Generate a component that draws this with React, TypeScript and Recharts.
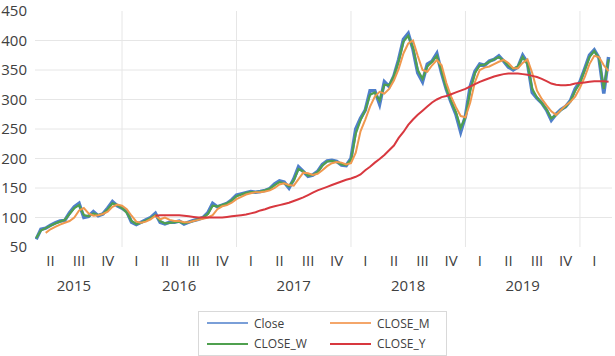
import React from "react";
import { LineChart, Line, XAxis, YAxis, CartesianGrid, Legend } from "recharts";

// semi-monthly sampling points, Apr 2015 .. Apr 2020
const dates: string[] = [];
for (let y = 2015; y <= 2020; y++) {
  for (let m = 1; m <= 12; m++) {
    if ((y === 2015 && m < 4) || (y === 2020 && m > 4)) continue;
    const mm = String(m).padStart(2, "0");
    dates.push(`${y}-${mm}-01`);
    if (!(y === 2020 && m === 4)) dates.push(`${y}-${mm}-16`);
  }
}

const close = [
  63, 80, 82, 87, 91, 94, 95, 108, 118, 124, 100, 102, 110, 103, 106, 116, 127, 120,
  116, 110, 92, 88, 92, 96, 100, 107, 92, 89, 92, 92, 94, 89, 92, 95, 97, 100, 108, 124, 118, 121, 124, 130,
  138, 140, 142, 144, 143, 144, 146, 149, 157, 162, 160, 150, 165, 186, 178, 170, 172, 178, 190, 196, 197, 195, 189, 188,
  200, 250, 268, 282, 315, 315, 292, 330, 322, 340, 368, 402, 412, 385, 345, 330, 360, 365, 378, 345, 317, 295, 275, 245,
  272, 322, 348, 360, 358, 365, 368, 374, 365, 355, 350, 355, 375, 362, 312, 302, 294, 282, 265, 275, 283, 288, 298, 318,
  330, 352, 375, 384, 370, 310, 372,
];

const closeW = [
  65, 78, 82, 86, 90, 93, 96, 106, 116, 121, 104, 102, 107, 104, 106, 114, 124, 121,
  116, 108, 94, 89, 91, 95, 99, 104, 94, 90, 91, 92, 93, 90, 92, 94, 97, 100, 106, 120, 119, 121, 124, 129,
  136, 139, 142, 143, 143, 144, 146, 149, 155, 160, 158, 153, 163, 182, 178, 171, 172, 177, 188, 195, 196, 194, 190, 189,
  198, 242, 265, 282, 308, 312, 298, 325, 324, 340, 365, 398, 408, 388, 350, 335, 356, 364, 374, 348, 318, 297, 278, 252,
  270, 315, 345, 358, 359, 364, 368, 372, 366, 357, 352, 356, 372, 360, 318, 303, 294, 283, 268, 274, 282, 288, 297, 315,
  328, 350, 372, 382, 370, 318, 368,
];

const closeM = [
  null, null, 74, 80, 84, 88, 91, 94, 100, 112, 116, 107, 103, 104, 106, 110, 118, 122,
  120, 114, 103, 93, 91, 93, 97, 103, 97, 100, 96, 94, 94, 92, 92, 94, 96, 98, 100, 104, 114, 119, 121, 125,
  131, 135, 139, 141, 143, 143, 144, 146, 150, 156, 158, 155, 154, 165, 176, 175, 172, 174, 180, 187, 192, 194, 193, 190,
  192, 210, 246, 266, 288, 305, 313, 310, 318, 332, 352, 378, 395, 400, 374, 350, 347, 358, 367, 358, 328, 305, 287, 272,
  270, 295, 330, 350, 354, 356, 360, 364, 367, 362, 353, 353, 362, 368, 345, 315, 301, 290, 280, 274, 282, 290, 296, 305,
  320, 338, 360, 374, 372, 358, 348,
];

const closeY = [
  null, null, null, null, null, null, null, null, null, null, null, null, null, null, null, null, null, null,
  null, null, null, null, null, null, null, 103, 104, 104, 104, 104, 104, 103, 102, 101, 100, 100, 100, 100, 100, 100, 101, 102,
  103, 104, 105, 107, 109, 112, 114, 117, 119, 121, 123, 125, 128, 131, 134, 138, 142, 146, 149, 152, 155, 158, 161, 164,
  166, 169, 173, 180, 186, 193, 199, 206, 214, 222, 235, 245, 257, 266, 274, 281, 288, 295, 300, 304, 306, 309, 312, 315,
  318, 322, 326, 330, 333, 336, 339, 341, 343, 344, 344, 344, 343, 342, 340, 338, 335, 331, 327, 325, 324, 324, 325, 327,
  328, 329, 330, 331, 331, 331, 330,
];

const yTicks = [50, 100, 150, 200, 250, 300, 350, 400, 450];
const gridY = [100, 150, 200, 250, 300, 350, 400];
const yearLines = [2016, 2017, 2018, 2019, 2020];
const quarterNames = ["I", "II", "III", "IV"];
const quarterTicks: number[] = [];
for (let y = 2015; y <= 2020; y++) {
  for (let q = 0; q < 4; q++) {
    const t = y + q * 0.25 + 0.125;
    if (t > 2015.3 && t < 2020.2) quarterTicks.push(t);
  }
}
const yearTicks = [2015.58, 2016.5, 2017.5, 2018.5, 2019.5];

const toYear = (d: string) => {
  const [y, m, day] = d.split("-").map(Number);
  return y + (m - 1) / 12 + (day - 1) / 360;
};

const data = dates.map((d, i) => ({
  t: toYear(d),
  Close: close[i],
  CLOSE_W: closeW[i],
  CLOSE_M: closeM[i],
  CLOSE_Y: closeY[i],
}));

// legend order (row-wise, two columns)
const series = [
  { key: "Close", color: "#7a9fd8" },
  { key: "CLOSE_M", color: "#f4a66a" },
  { key: "CLOSE_W", color: "#4fa04f" },
  { key: "CLOSE_Y", color: "#d8383f" },
];

const FONT = "'Open Sans', sans-serif";
const tickStyle = { fontSize: 15, fill: "#404040", fontFamily: FONT };

const quarterLabel = (t: number) => quarterNames[Math.floor(((t % 1) + 0.001) * 4)];

function LegendBox() {
  return (
    <div style={{ paddingTop: 11 }}>
      <div
        style={{
          width: 247,
          height: 41,
          border: "1px solid #d9d9d9",
          paddingTop: 2,
          display: "flex",
          flexWrap: "wrap",
          fontFamily: FONT,
          fontSize: 12,
          color: "#404040",
        }}
      >
        {series.map((s) => (
          <div key={s.key} style={{ width: 123, height: 18, display: "flex", alignItems: "center", paddingLeft: 8, boxSizing: "border-box" }}>
            <svg width={41} height={4} style={{ marginRight: 6 }}>
              <line x1={0} y1={2} x2={41} y2={2} stroke={s.color} strokeWidth={2} />
            </svg>
            <span>{s.key}</span>
          </div>
        ))}
      </div>
    </div>
  );
}

export default function App() {
  return (
    <div style={{ position: "absolute", left: 0, top: 0, width: 615, height: 356, background: "#fff" }}>
      <LineChart width={615} height={356} data={data} margin={{ top: 11, right: 3, left: 0, bottom: 0 }}>
        <CartesianGrid
          xAxisId="q"
          stroke="#e6e6e6"
          horizontalValues={gridY}
          verticalValues={yearLines}
        />
        <XAxis
          xAxisId="q"
          dataKey="t"
          type="number"
          domain={[2015.24, 2020.28]}
          allowDataOverflow
          ticks={quarterTicks}
          interval={0}
          tickFormatter={quarterLabel}
          axisLine={false}
          tickLine={false}
          tick={tickStyle}
          height={25}
        />
        <XAxis
          xAxisId="y"
          dataKey="t"
          type="number"
          domain={[2015.24, 2020.28]}
          allowDataOverflow
          ticks={yearTicks}
          interval={0}
          tickFormatter={(t: number) => String(Math.floor(t))}
          axisLine={false}
          tickLine={false}
          tick={tickStyle}
          height={28}
        />
        <YAxis
          domain={[50, 450]}
          ticks={yTicks}
          interval={0}
          axisLine={false}
          tickLine={false}
          tick={tickStyle}
          width={35}
        />
        <Line xAxisId="q" dataKey="Close" stroke="#4f7fcb" strokeWidth={3.5} dot={false} isAnimationActive={false} />
        <Line xAxisId="q" dataKey="CLOSE_W" stroke="#4fa04f" strokeWidth={2.2} dot={false} isAnimationActive={false} />
        <Line xAxisId="y" dataKey="CLOSE_M" stroke="#f0984e" strokeWidth={2} dot={false} isAnimationActive={false} />
        <Line xAxisId="y" dataKey="CLOSE_Y" stroke="#d8383f" strokeWidth={2} dot={false} isAnimationActive={false} />
        <Legend verticalAlign="bottom" content={() => <LegendBox />} wrapperStyle={{ left: 198, width: 249 }} />
      </LineChart>
    </div>
  );
}
